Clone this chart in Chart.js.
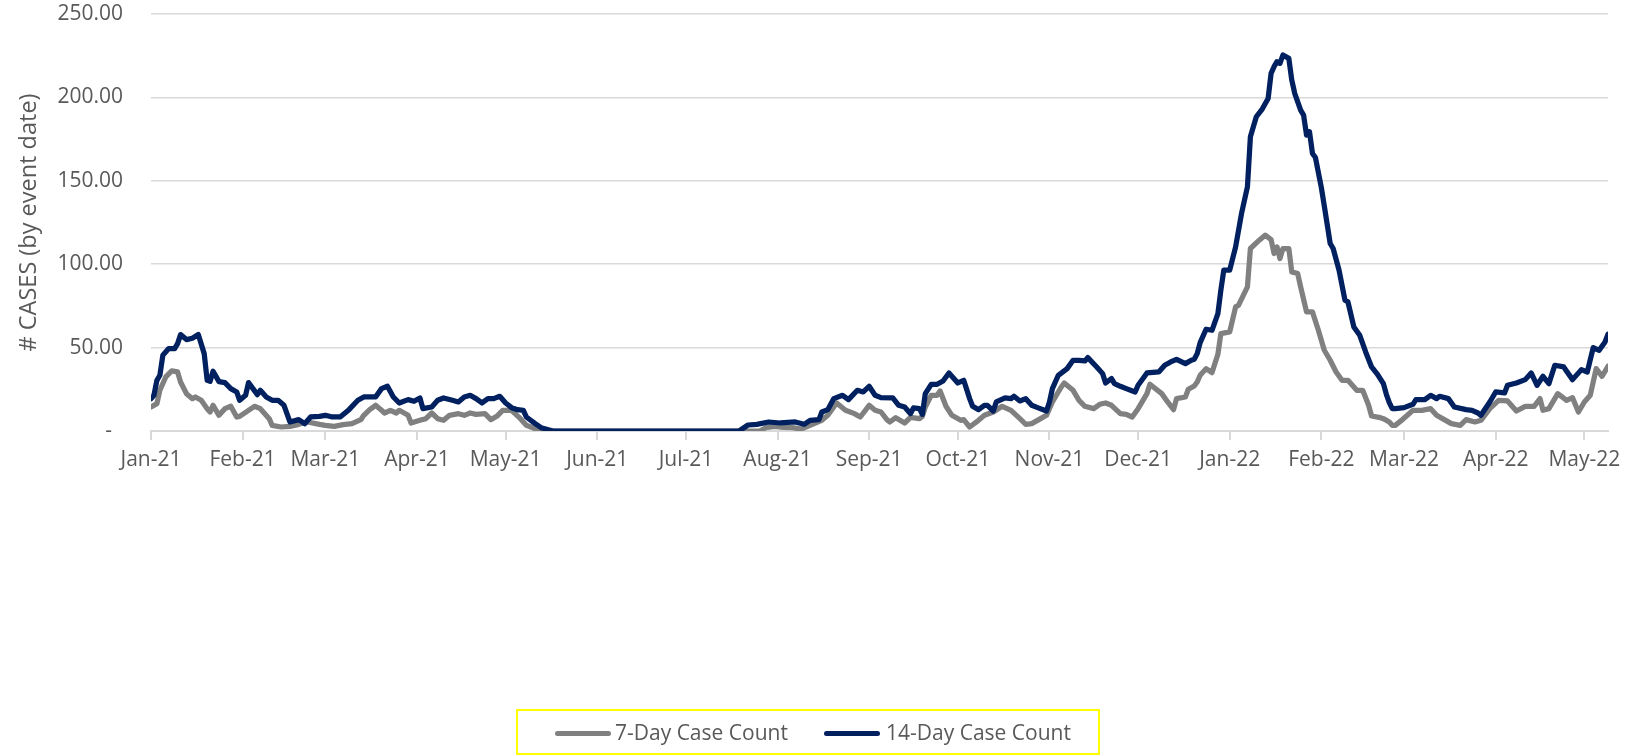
<!DOCTYPE html>
<html>
<head>
<meta charset="utf-8">
<script src="https://cdn.jsdelivr.net/npm/chart.js@4/dist/chart.umd.min.js"></script>
<style>
  body { margin: 0; background: #fff; }
  #wrap { position: relative; width: 1630px; height: 756px; }
  #legend {
    position: absolute; left: 516px; top: 709px; width: 580px; height: 42px;
    border: 2px solid #ffff00; font-family: "Open Sans", sans-serif; font-size: 21px; color: #595959;
  }
  .swatch { position: absolute; top: 20px; width: 56px; height: 5px; border-radius: 3px; }
  .lbl { position: absolute; top: 7px; line-height: 28px; white-space: nowrap; }
</style>
</head>
<body>
<div id="wrap">
  <canvas id="grafico" width="1630" height="756"></canvas>
  <div id="legend">
    <div class="swatch" style="left:37px;background:#808080"></div>
    <div class="lbl" style="left:97px">7-Day Case Count</div>
    <div class="swatch" style="left:306px;background:#002060"></div>
    <div class="lbl" style="left:368px">14-Day Case Count</div>
  </div>
</div>
<script>
// dias desde el 1 de enero de 2021
const mesesDias = [0, 31, 59, 90, 120, 151, 181, 212, 243, 273, 304, 334, 365, 396, 424, 455, 485];
const mesesEtiquetas = ['Jan-21', 'Feb-21', 'Mar-21', 'Apr-21', 'May-21', 'Jun-21', 'Jul-21', 'Aug-21', 'Sep-21',
    'Oct-21', 'Nov-21', 'Dec-21', 'Jan-22', 'Feb-22', 'Mar-22', 'Apr-22', 'May-22'];

// 7-Day Case Count
const dias7 = [
    0, 2, 3, 5, 7, 9, 10, 12, 14, 15,
    17, 19, 20, 21, 23, 25, 27, 29, 30, 33,
    35, 37, 40, 41, 44, 47, 50, 53, 57, 59,
    62, 65, 68, 71, 72, 74, 76, 78, 79, 81,
    83, 84, 87, 88, 91, 93, 95, 97, 99, 101,
    104, 106, 108, 110, 113, 115, 117, 119, 122, 125,
    127, 130, 132, 134, 206, 208, 211, 214, 217, 220,
    223, 227, 229, 232, 235, 238, 240, 243, 245, 247,
    249, 250, 252, 255, 257, 260, 261, 262, 264, 266,
    267, 269, 271, 274, 275, 277, 280, 282, 285, 288,
    291, 294, 296, 298, 301, 303, 305, 308, 309, 312,
    314, 316, 319, 321, 323, 325, 328, 330, 332, 334,
    337, 338, 342, 344, 346, 347, 350, 351, 353, 354,
    355, 357, 359, 361, 362, 365, 367, 368, 371, 372,
    375, 377, 379, 380, 381, 382, 383, 385, 386, 388,
    389, 391, 393, 395, 397, 399, 401, 403, 405, 408,
    410, 412, 413, 416, 417, 419, 420, 421, 423, 427,
    430, 433, 435, 437, 440, 443, 445, 448, 450, 453,
    456, 459, 462, 465, 468, 470, 471, 473, 475, 476,
    479, 481, 483, 485, 487, 489, 491, 493
];
const casos7 = [
    14.4, 16.4, 24.4, 32.4, 36, 35.4, 29.4, 22.4, 19.4, 20.4,
    18.4, 13.4, 11.4, 15.4, 9.4, 13.4, 14.8, 8.4, 8.8, 12.4,
    14.8, 13.4, 7.4, 3.4, 2.4, 2.8, 4, 5.4, 4, 3.4,
    2.8, 3.8, 4.4, 6.8, 9.4, 12.8, 15.4, 12.4, 10.8, 12.4,
    10.8, 12.4, 9.4, 4.8, 6.4, 7.4, 10.8, 7.4, 6.4, 9.4,
    10.4, 9.4, 10.8, 10, 10.4, 6.8, 8.8, 12.4, 12.4, 7.4,
    3.4, 1.4, 0.4, 0, 0, 2, 2.8, 2.2, 2, 1.2,
    3.4, 6.4, 9.4, 16.8, 12.4, 10.4, 8.4, 15.4, 12.4, 11.4,
    6.8, 5.4, 8, 4.8, 8.2, 7.4, 8.8, 14.4, 21.4, 21.4,
    24, 14.8, 9.4, 6.4, 6.8, 2.4, 6.4, 9.4, 11.4, 14.8,
    12.4, 7.4, 4, 4.4, 7.4, 9.4, 17.4, 26.4, 28.8, 24.4,
    18.4, 14.8, 13.4, 16, 16.8, 15.4, 10.4, 10, 8.4, 13.4,
    22.4, 28, 22.4, 17.4, 12.8, 19.4, 20.4, 25, 27, 29.4,
    33.4, 37.4, 35, 46, 58.4, 59.4, 74.4, 75.4, 86.4, 109.4,
    114.4, 117.4, 114.8, 106.4, 110.4, 103.4, 109.4, 109.4, 95.4, 94.4,
    86.4, 71.4, 71.4, 60.4, 48.4, 42.4, 35.4, 30.4, 30.4, 24.4,
    24.4, 15.4, 9, 8, 7.4, 5.4, 3.4, 3.4, 6.2, 12.4,
    12.4, 13.4, 9.4, 7.4, 4.4, 3.4, 6.8, 5.4, 6.4, 13.4,
    18.4, 18, 12, 14.8, 14.8, 19.4, 12.4, 13.4, 19.4, 22.4,
    18.4, 20, 11.4, 17.4, 21.4, 37.4, 32.8, 38.8
];

// 14-Day Case Count
const dias14 = [
    0, 1, 2, 3, 4, 6, 8, 9, 10, 12,
    14, 16, 18, 19, 20, 21, 23, 25, 27, 29,
    30, 32, 33, 34, 36, 37, 39, 41, 43, 45,
    46, 47, 50, 52, 54, 57, 59, 61, 64, 67,
    70, 72, 76, 78, 80, 82, 84, 87, 89, 91,
    92, 95, 97, 99, 102, 104, 106, 108, 110, 112,
    114, 116, 118, 120, 122, 124, 126, 127, 130, 132,
    136, 199, 202, 205, 209, 213, 218, 221, 223, 226,
    227, 229, 231, 234, 236, 239, 241, 243, 245, 247,
    251, 253, 255, 257, 258, 260, 261, 262, 264, 266,
    268, 270, 273, 275, 277, 278, 280, 282, 283, 285,
    286, 289, 291, 292, 294, 296, 298, 300, 303, 304,
    305, 307, 310, 312, 314, 316, 317, 320, 322, 323,
    325, 326, 328, 330, 333, 334, 337, 341, 343, 345,
    347, 350, 352, 353, 354, 355, 357, 359, 361, 362,
    363, 365, 367, 369, 371, 372, 374, 376, 378, 379,
    380, 381, 382, 383, 385, 386, 387, 389, 390, 391,
    392, 393, 394, 395, 396, 397, 399, 400, 402, 404,
    405, 407, 409, 411, 413, 415, 417, 418, 419, 420,
    421, 424, 427, 428, 431, 433, 435, 436, 439, 441,
    445, 447, 449, 450, 453, 455, 458, 459, 462, 465,
    467, 469, 471, 473, 475, 478, 481, 484, 486, 488,
    490, 492, 493
];
const casos14 = [
    19.4, 21.4, 30.4, 33.4, 45.4, 49.4, 49.4, 52.4, 57.8, 54.8,
    55.6, 57.8, 46.4, 30.4, 29.8, 35.8, 29.6, 29, 25.4, 23.4,
    18.4, 21.4, 29, 26.6, 21.8, 24.4, 20.4, 18.4, 18.4, 15.4,
    10.4, 5.4, 6.8, 4.4, 8.4, 8.8, 9.4, 8.5, 8.4, 12.8,
    18.4, 20.4, 20.4, 25.4, 26.8, 20.4, 16.8, 18.8, 17.8, 19.8,
    13.4, 14.4, 18.4, 19.8, 18.4, 17.4, 20.4, 21.4, 19.4, 16.8,
    19.4, 19.4, 20.8, 16.8, 14, 12.8, 12.4, 8.4, 4.4, 2,
    0, 0, 3.6, 4, 5.4, 4.8, 5.4, 4, 6.4, 6.8,
    11.4, 12.8, 19.4, 21.4, 18.8, 24.4, 23.4, 26.8, 21.4, 20,
    19.8, 15.4, 14.4, 10.4, 13.8, 13.4, 10, 22.4, 28, 28,
    30, 34.8, 28.8, 30.4, 19.4, 14.8, 12.8, 15.4, 15.4, 12,
    17.4, 19.8, 19.4, 20.8, 18, 19.4, 15.4, 14, 12, 17.4,
    25.4, 33.4, 37.4, 42.4, 42.4, 42, 44, 38.4, 34.4, 28.8,
    31.4, 28.4, 26.8, 25.4, 23.4, 27.4, 34.8, 35.4, 39.4, 41.4,
    43, 40.4, 42.4, 43, 46.4, 53, 61, 60.4, 70.4, 84.4,
    96.4, 96.4, 110.4, 130.4, 146.4, 176.4, 188.4, 193, 199.4, 214.4,
    218.4, 221.4, 220.4, 225.4, 223.4, 210.4, 202.4, 192.4, 189.4, 177.4,
    179.4, 166.4, 164, 155, 146, 135, 112.4, 109.4, 96.4, 78.4,
    77.4, 62.4, 57.4, 47.4, 38.4, 34, 28.4, 22, 17, 13.4,
    13.4, 14, 16, 18.8, 18.8, 21.4, 19.4, 20.8, 19.4, 14.4,
    12.8, 12.4, 10.8, 9.4, 17.4, 23.4, 22.8, 27.4, 28.8, 30.8,
    34.8, 27.4, 32.8, 28.4, 39.4, 38.4, 30.8, 36.8, 35.4, 50,
    48.4, 53.4, 58
];

const aPuntos = (dias, casos) => dias.map((d, i) => ({ x: d, y: casos[i] }));

const colorTexto = '#595959';
const colorGrid = '#d9d9d9';

new Chart(document.getElementById('grafico'), {
    type: 'line',
    data: {
        datasets: [{
            label: '14-Day Case Count',
            data: aPuntos(dias14, casos14),
            borderColor: '#002060',
            backgroundColor: '#002060',
            order: 0
        }, {
            label: '7-Day Case Count',
            data: aPuntos(dias7, casos7),
            borderColor: '#808080',
            backgroundColor: '#808080',
            order: 1
        }]
    },
    options: {
        responsive: false,
        animation: false,
        parsing: false,
        elements: {
            line: { borderWidth: 5.25, tension: 0, borderJoinStyle: 'round', borderCapStyle: 'round' },
            point: { radius: 0 }
        },
        layout: { padding: { left: 0, right: 22, top: 14, bottom: 0 } },
        plugins: { legend: { display: false }, tooltip: { enabled: false } },
        scales: {
            x: {
                type: 'linear',
                min: 0,
                max: 493,
                afterBuildTicks: (scale) => {
                    scale.ticks = mesesDias.map(v => ({ value: v }));
                },
                afterFit: (scale) => { scale.height = 325; },
                ticks: {
                    autoSkip: false,
                    maxRotation: 0,
                    padding: 7,
                    color: colorTexto,
                    font: { family: 'Open Sans', size: 21 },
                    callback: (v, i) => mesesEtiquetas[i]
                },
                grid: { drawOnChartArea: false, drawTicks: true, tickLength: 9, color: colorGrid, lineWidth: 2 },
                border: { color: colorGrid, width: 2 }
            },
            y: {
                min: 0,
                max: 250,
                afterFit: (scale) => { scale.width = 151; },
                ticks: {
                    stepSize: 50,
                    padding: 0,
                    color: colorTexto,
                    font: { family: 'Open Sans', size: 21 },
                    callback: (v) => v === 0 ? '-  ' : v.toFixed(2)
                },
                // la marca invisible separa las etiquetas del area del grafico
                grid: { color: colorGrid, lineWidth: 1.5, drawTicks: true, tickLength: 28, tickColor: 'rgba(0,0,0,0)' },
                border: { display: false },
                title: {
                    display: true,
                    text: '# CASES (by event date)',
                    color: colorTexto,
                    font: { family: 'Open Sans', size: 23.5 },
                    padding: { top: 15, bottom: 0 }
                }
            }
        }
    }
});
</script>
</body>
</html>
